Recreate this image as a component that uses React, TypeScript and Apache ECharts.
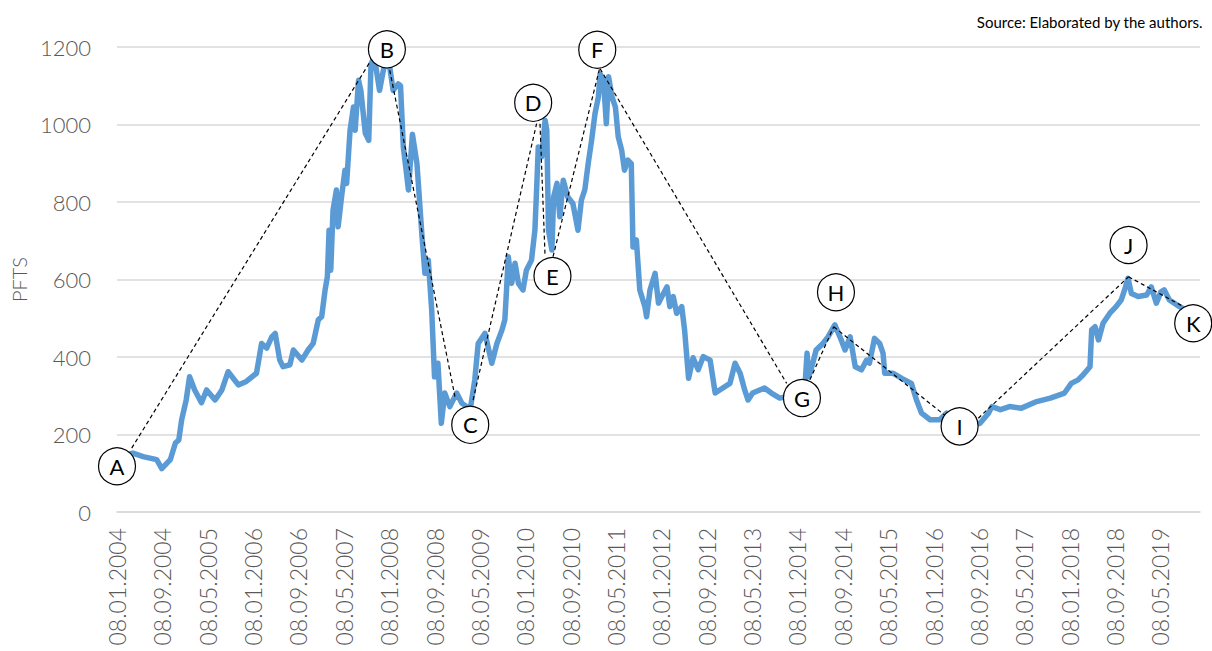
import React, { useEffect, useRef } from "react";
import * as echarts from "echarts";

// x = months elapsed since 08.01.2004, y = PFTS index value
const pftsMonths = [
  0, 1.5, 2.8, 4.6, 7.0, 7.9, 9.4, 10.3, 10.9, 11.4, 12.2, 12.8, 13.7, 14.9, 15.8, 17.3, 18.5, 19.6, 21.4, 22.8,
  24.6, 25.5, 26.4, 27.3, 27.9, 28.7, 29.3, 30.5, 31.1, 32.6, 33.7, 34.6, 35.5, 36.1, 36.7, 37.1, 37.4, 37.7, 38.1, 38.7,
  39.0, 39.6, 40.2, 40.5, 41.1, 41.7, 42.0, 42.6, 43.0, 43.8, 44.4, 44.8, 45.4, 46.3, 47.2, 48.1, 48.7, 49.6, 50.0, 50.5,
  51.4, 52.1, 52.9, 53.8, 54.3, 54.9, 55.5, 56.0, 56.6, 57.2, 57.8, 58.7, 59.9, 60.8, 62.3, 63.1, 63.7, 64.9, 66.1, 67.0,
  67.9, 68.4, 68.7, 69.0, 69.6, 70.2, 70.8, 71.6, 72.2, 73.1, 73.7, 74.0, 74.3, 74.9, 75.5, 75.8, 76.1, 76.7, 77.0, 77.6,
  78.1, 78.7, 79.5, 80.4, 81.3, 81.9, 82.5, 83.1, 83.7, 84.3, 84.9, 85.2, 85.8, 86.3, 86.7, 87.3, 87.9, 88.4, 89.0, 89.5,
  90.1, 90.7, 91.0, 91.6, 92.2, 93.1, 93.4, 94.0, 94.9, 95.5, 96.1, 97.0, 97.5, 98.1, 98.7, 99.6, 100.1, 100.8, 101.6, 102.5,
  103.4, 104.6, 105.5, 106.3, 108.1, 109.0, 109.9, 110.7, 111.3, 112.1, 114.2, 115.4, 116.9, 118.8, 120.3, 121.2, 121.7, 122.0, 122.7, 123.3,
  124.5, 125.4, 126.6, 127.5, 128.4, 129.3, 130.2, 131.3, 132.2, 132.7, 133.6, 134.5, 135.1, 135.4, 136.9, 138.4, 140.1, 141.0, 141.9, 143.4,
  145.1, 146.3, 147.5, 149.5, 151.0, 152.2, 153.7, 154.3, 155.8, 157.4, 159.5, 162.2, 164.6, 167.1, 168.3, 169.5, 170.4, 171.6, 171.9, 172.5,
  173.1, 173.9, 175.1, 176.2, 177.1, 177.7, 178.3, 178.9, 180.1, 181.6, 182.4, 183.3, 184.1, 184.7, 185.6, 187.4, 188.4,
];
const pftsValues = [
  150, 148, 152, 143, 135, 112, 135, 178, 186, 238, 289, 349, 315, 282, 315, 289, 315, 362, 328, 337,
  358, 435, 423, 452, 461, 392, 375, 380, 418, 392, 418, 435, 496, 504, 573, 607, 727, 624, 779, 831,
  736, 813, 882, 848, 985, 1045, 985, 1114, 1088, 977, 959, 1157, 1174, 1088, 1157, 1148, 1088, 1105, 1100, 942,
  831, 975, 899, 710, 616, 650, 521, 349, 384, 229, 307, 272, 307, 281, 265, 341, 435, 461, 384, 435,
  470, 496, 573, 659, 590, 642, 590, 573, 624, 650, 727, 831, 942, 917, 1011, 985, 727, 676, 813, 848,
  762, 856, 813, 796, 727, 805, 831, 899, 959, 1028, 1071, 1131, 1114, 1002, 1123, 1071, 1045, 968, 934, 882,
  908, 899, 684, 702, 573, 530, 504, 573, 616, 539, 556, 581, 530, 556, 513, 530, 470, 345, 398, 367,
  401, 392, 307, 315, 332, 384, 358, 315, 289, 307, 320, 307, 294, 300, 300, 296, 410, 349, 384, 418,
  435, 452, 483, 452, 418, 452, 375, 367, 392, 384, 448, 435, 410, 358, 358, 345, 332, 289, 255, 238,
  238, 255, 240, 225, 225, 229, 255, 272, 264, 272, 268, 285, 294, 307, 332, 341, 354, 375, 470, 478,
  444, 487, 513, 530, 547, 573, 603, 564, 556, 560, 581, 539, 568, 573, 547, 530, 522,
];

const xTickLabels = [
  "08.01.2004", "08.09.2004", "08.05.2005", "08.01.2006", "08.09.2006", "08.05.2007",
  "08.01.2008", "08.09.2008", "08.05.2009", "08.01.2010", "08.09.2010", "08.05.2011",
  "08.01.2012", "08.09.2012", "08.05.2013", "08.01.2014", "08.09.2014", "08.05.2015",
  "08.01.2016", "08.09.2016", "08.05.2017", "08.01.2018", "08.09.2018", "08.05.2019",
];

const markerLetters = ["A", "B", "C", "D", "E", "F", "G", "H", "I", "J", "K"];
const markerMonths = [0, 47.6, 62.3, 73.4, 76.8, 84.7, 120.8, 126.8, 148.6, 178.4, 189.8];
const markerValues = [118, 1194, 225, 1056, 609, 1193, 294, 567, 221, 689, 487];

// dashed trend segments: [month1, value1, month2, value2]
const trendSegments = [
  [2.6, 165, 44.6, 1161],
  [48.1, 1140, 59.6, 298],
  [62.8, 289, 74.0, 1002],
  [74.6, 1002, 75.5, 659],
  [76.9, 659, 85.1, 1144],
  [85.2, 1144, 118.1, 332],
  [122.2, 341, 126.4, 478],
  [126.4, 478, 146.3, 246],
  [151.9, 242, 178.4, 607],
  [178.4, 607, 188.1, 530],
];

const FONT = "Lato, 'Open Sans', 'Liberation Sans', sans-serif";

export default function App() {
  const ref = useRef<HTMLDivElement>(null);

  useEffect(() => {
    if (!ref.current) return;
    const chart = echarts.init(ref.current, undefined, { renderer: "svg" });

    const lineData = pftsMonths.map((m, i) => [m, pftsValues[i]]);
    const markerData = markerLetters.map((l, i) => ({ name: l, value: [markerMonths[i], markerValues[i]] }));

    const dashedSeries = trendSegments.map((s) => ({
      type: "line",
      data: [
        [s[0], s[1]],
        [s[2], s[3]],
      ],
      symbol: "none",
      silent: true,
      z: 3,
      lineStyle: { color: "#000000", width: 1.2, type: [4, 3] },
    }));

    chart.setOption({
      animation: false,
      textStyle: { fontFamily: FONT },
      title: {
        text: "Source: Elaborated by the authors.",
        right: 4,
        top: 9,
        textStyle: { fontSize: 15, fontWeight: "normal", color: "#000000", fontFamily: FONT },
      },
      grid: { left: 117, right: 12, top: 47, bottom: 139, containLabel: false },
      xAxis: {
        type: "value",
        min: 0,
        max: 191,
        interval: 8,
        splitLine: { show: false },
        axisTick: { show: false },
        axisLine: { show: true, lineStyle: { color: "#d9d9d9", width: 1.5 } },
        axisLabel: {
          rotate: 90,
          margin: 16,
          fontSize: 23,
          fontWeight: 300,
          color: "#595959",
          fontFamily: FONT,
          showMaxLabel: false,
          formatter: (v: number) => {
            const idx = Math.round(v / 8);
            return idx < xTickLabels.length ? xTickLabels[idx] : "";
          },
        },
      },
      yAxis: {
        type: "value",
        min: 0,
        max: 1200,
        interval: 200,
        name: "PFTS",
        nameLocation: "middle",
        nameGap: 84,
        nameTextStyle: { fontSize: 20, color: "#595959", fontFamily: FONT, fontWeight: 300 },
        axisLine: { show: false },
        axisTick: { show: false },
        axisLabel: {
          fontSize: 22,
          color: "#595959",
          margin: 26,
          fontFamily: FONT,
          fontWeight: 300,
          formatter: (v: number) => String(v),
        },
        splitLine: { lineStyle: { color: "#d9d9d9", width: 1.5 } },
      },
      series: [
        {
          type: "line",
          data: lineData,
          showSymbol: false,
          symbol: "none",
          z: 2,
          lineStyle: { color: "#5B9BD5", width: 5.5, join: "round", cap: "round" },
        },
        ...dashedSeries,
        {
          type: "scatter",
          data: markerData,
          symbol: "circle",
          symbolSize: 37,
          clip: false,
          z: 5,
          itemStyle: { color: "#ffffff", borderColor: "#000000", borderWidth: 1.2, opacity: 1 },
          label: {
            show: true,
            position: "inside",
            formatter: "{b}",
            fontSize: 22,
            color: "#000000",
            fontFamily: FONT,
          },
        },
      ],
    });

    return () => chart.dispose();
  }, []);

  return (
    <div
      ref={ref}
      style={{ position: "fixed", left: 0, top: 0, width: 1212, height: 651, background: "#ffffff" }}
    />
  );
}
